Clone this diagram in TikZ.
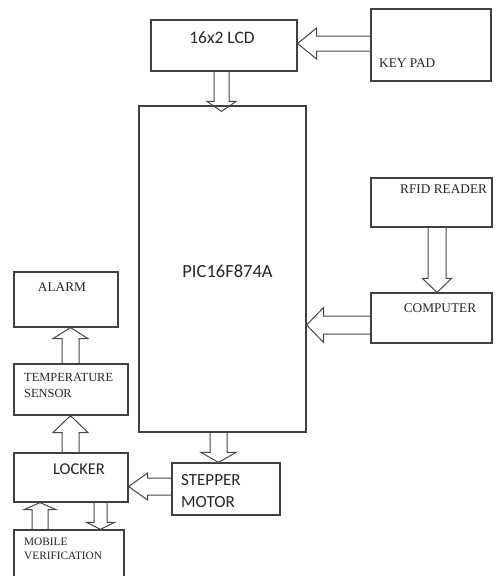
\documentclass[tikz,border=0pt]{standalone}
\usepackage{fontspec}
\setmainfont{Liberation Serif}
\newfontfamily\calfont{Carlito}
\usetikzlibrary{calc}
\tikzset{
  blk/.style={draw=black!75, line width=1.2pt, fill=white, inner sep=0pt},
  arrowline/.style={draw=black!72, line width=1pt, line join=miter},
  sanslbl/.style={font=\calfont\fontsize{17.5}{21}\selectfont, text=black!85, inner sep=0pt},
  seriflbl/.style={font=\fontsize{13.3}{16}\selectfont, text=black!85, inner sep=0pt},
}
\newcommand{\blockarrow}[5]{%
  \coordinate (bah) at ($(#2)!#5!(#1)$);
  \draw[arrowline] ($(#1)!#3!90:(#2)$) -- ($(bah)!#3!90:(#2)$) -- ($(bah)!#4!90:(#2)$) -- (#2) -- ($(bah)!#4!-90:(#2)$) -- ($(bah)!#3!-90:(#2)$) -- ($(#1)!#3!-90:(#2)$);
}
\begin{document}
\begin{tikzpicture}[x=1pt,y=-1pt]
\useasboundingbox (0,0) rectangle (496,576);
% boxes
\node[blk, minimum width=146pt, minimum height=51pt] (lcd) at (224,45.5) {};
\node[blk, minimum width=120pt, minimum height=72pt] (kp) at (431,45) {};
\node[blk, minimum width=167pt, minimum height=326pt] (pic) at (222.5,269) {};
\node[blk, minimum width=121pt, minimum height=49pt] (rfid) at (431.5,202.5) {};
\node[blk, minimum width=121pt, minimum height=50pt] (comp) at (431.5,318) {};
\node[blk, minimum width=108pt, minimum height=52pt] (step) at (226,489) {};
\node[blk, minimum width=104pt, minimum height=55pt] (alarm) at (66,299.5) {};
\node[blk, minimum width=114pt, minimum height=51pt] (temp) at (71,389.5) {};
\node[blk, minimum width=114pt, minimum height=49pt] (locker) at (71,477.5) {};
\node[blk, minimum width=110pt, minimum height=48pt] (mob) at (69,554) {};
% labels
\node[sanslbl] (lcdt) at (222,38) {16x2 LCD};
\node[seriflbl, anchor=west] (kpt) at (379,63) {KEY PAD};
\node[sanslbl, font=\calfont\fontsize{18.5}{22}\selectfont] (pict) at (227.5,271) {PIC16F874A};
\node[seriflbl, anchor=west] (rfidt) at (400,189.5) {RFID READER};
\node[seriflbl] (compt) at (440,308) {COMPUTER};
\node[sanslbl, anchor=west, align=left, font=\calfont\fontsize{17}{22}\selectfont] (stept) at (181,491) {STEPPER\\MOTOR};
\node[seriflbl] (alarmt) at (62,287) {ALARM};
\node[seriflbl, anchor=west, align=left, font=\fontsize{12.4}{16}\selectfont] (tempt) at (24,385) {TEMPERATURE\\SENSOR};
\node[sanslbl, font=\calfont\fontsize{16.5}{20}\selectfont] (lockert) at (79,469) {LOCKER};
\node[seriflbl, anchor=west, align=left, font=\fontsize{11.3}{14}\selectfont] (mobt) at (24,549) {MOBILE\\VERIFICATION};
% connectors
\coordinate (a1s) at ($(kp.west)+(0,-1.5)$);
\coordinate (a1e) at (a1s -| lcd.east);
\blockarrow{a1s}{a1e}{7.5pt}{15.5pt}{19pt}
\coordinate (a2s) at ($(lcd.south)+(-2.5,0)$);
\coordinate (a2e) at ($(a2s |- pic.north)+(0,6)$);
\blockarrow{a2s}{a2e}{7.5pt}{14.5pt}{10pt}
\coordinate (a3s) at ($(rfid.south)+(5.5,0)$);
\coordinate (a3e) at (a3s |- comp.north);
\blockarrow{a3s}{a3e}{9pt}{14.5pt}{14pt}
\coordinate (a4s) at ($(comp.west)+(0,7)$);
\coordinate (a4e) at (a4s -| pic.east);
\blockarrow{a4s}{a4e}{9pt}{17.5pt}{17pt}
\coordinate (a5s) at ($(pic.south)+(-4,0)$);
\coordinate (a5e) at (a5s |- step.north);
\blockarrow{a5s}{a5e}{8.5pt}{17.5pt}{10pt}
\coordinate (a6s) at ($(step.west)+(0,-2.5)$);
\coordinate (a6e) at (a6s -| locker.east);
\blockarrow{a6s}{a6e}{8.5pt}{13.5pt}{19pt}
\coordinate (a7s) at ($(locker.north)+(-0.5,0)$);
\coordinate (a7e) at (a7s |- temp.south);
\blockarrow{a7s}{a7e}{8.5pt}{17.5pt}{17pt}
\coordinate (a8s) at ($(temp.north)+(-0.5,0)$);
\coordinate (a8e) at (a8s |- alarm.south);
\blockarrow{a8s}{a8e}{8.5pt}{17.5pt}{11pt}
\coordinate (a9s) at (40,0 |- mob.north);
\coordinate (a9e) at (a9s |- locker.south);
\blockarrow{a9s}{a9e}{8pt}{16pt}{7pt}
\coordinate (a10s) at (100.5,0 |- locker.south);
\coordinate (a10e) at (a10s |- mob.north);
\blockarrow{a10s}{a10e}{6.5pt}{14pt}{7pt}
\end{tikzpicture}
\end{document}
